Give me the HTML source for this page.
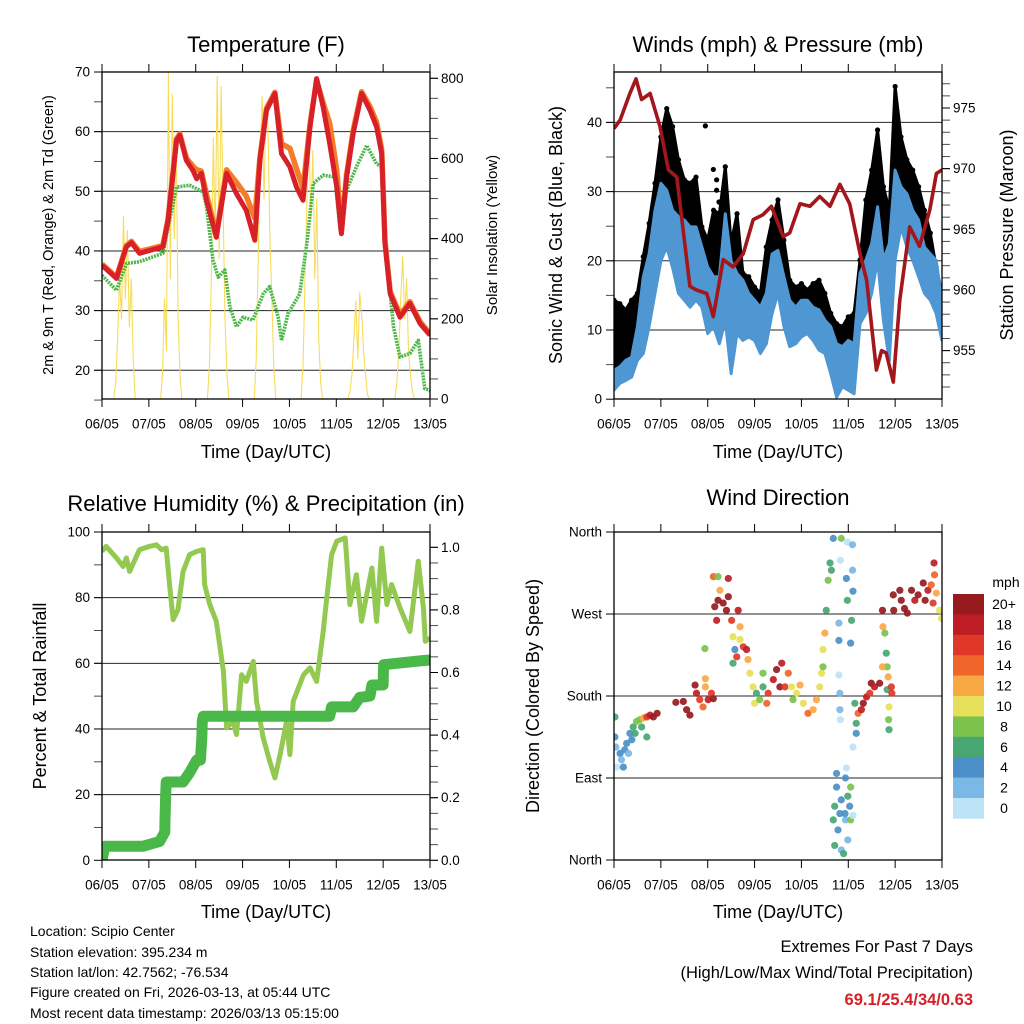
<!DOCTYPE html>
<html><head><meta charset="utf-8"><title>Station meteogram</title>
<style>
html,body{margin:0;padding:0;background:#fff;}
svg{display:block;font-family:"Liberation Sans",Arial,sans-serif;}
</style></head>
<body>
<svg id="fig" width="1024" height="1024" viewBox="0 0 1024 1024" xmlns="http://www.w3.org/2000/svg">
<defs>
<clipPath id="c1"><rect x="102" y="72" width="328" height="327"/></clipPath>
<clipPath id="c2"><rect x="614" y="72" width="328" height="327"/></clipPath>
<clipPath id="c3"><rect x="102" y="532" width="328" height="328"/></clipPath>
<clipPath id="c4"><rect x="614" y="532" width="328" height="328"/></clipPath>
</defs>
<g font-size="22" text-anchor="middle" fill="#000">
<text x="266" y="52">Temperature (F)</text>
<text x="778" y="52">Winds (mph) &amp; Pressure (mb)</text>
<text x="266" y="511">Relative Humidity (%) &amp; Precipitation (in)</text>
<text x="778" y="505">Wind Direction</text>
</g>
<g font-size="18" text-anchor="middle">
<text x="266" y="458">Time (Day/UTC)</text>
<text x="778" y="458">Time (Day/UTC)</text>
<text x="266" y="918">Time (Day/UTC)</text>
<text x="778" y="918">Time (Day/UTC)</text>
<text transform="translate(53,235) rotate(-90)" font-size="14.5">2m &amp; 9m T (Red, Orange) &amp; 2m Td (Green)</text>
<text transform="translate(497,235) rotate(-90)" font-size="15">Solar Insolation (Yellow)</text>
<text transform="translate(562,235) rotate(-90)">Sonic Wind &amp; Gust (Blue, Black)</text>
<text transform="translate(1013,235) rotate(-90)">Station Pressure (Maroon)</text>
<text transform="translate(46,696) rotate(-90)">Percent &amp; Total Rainfall</text>
<text transform="translate(539,696) rotate(-90)">Direction (Colored By Speed)</text>
</g>
<g font-size="14">
<text x="30" y="936">Location: Scipio Center</text>
<text x="30" y="957">Station elevation: 395.234 m</text>
<text x="30" y="977">Station lat/lon: 42.7562; -76.534</text>
<text x="30" y="997">Figure created on Fri, 2026-03-13, at 05:44 UTC</text>
<text x="30" y="1018">Most recent data timestamp: 2026/03/13 05:15:00</text>
</g>
<g font-size="16.5" text-anchor="end">
<text x="973" y="952">Extremes For Past 7 Days</text>
<text x="973" y="978">(High/Low/Max Wind/Total Precipitation)</text>
<text x="973" y="1005" fill="#d42027" font-weight="bold">69.1/25.4/34/0.63</text>
</g>
</svg>
<script>
// ---------- data ----------
const dayLabels = ["06/05","07/05","08/05","09/05","10/05","11/05","12/05","13/05"];
const tempT = [0,0.31,0.52,0.63,0.80,1.30,1.41,1.59,1.66,1.80,1.94,2.02,2.12,2.23,2.44,2.66,2.87,3.08,3.26,3.37,3.51,3.69,3.83,4.01,4.15,4.29,4.44,4.58,4.72,4.86,5.01,5.11,5.22,5.36,5.54,5.72,5.86,5.97,6.04,6.15,6.36,6.57,6.79,7.0];
const temp2m = [37.6,35.4,40.7,41.4,39.6,40.7,45.1,58.5,59.4,55.2,53.5,52.1,53,48.5,42.3,53,49.6,46.8,41.8,55.2,63.6,66.4,56.3,54.1,50.7,48.5,60.8,68.9,64.1,58,50.7,42.9,52.4,59.7,66.4,63.6,60.8,56.3,41.2,32.8,28.9,31.2,27.8,25.9];
const temp9m = [37.8,35.6,40.9,41.6,39.9,40.9,45.4,58.8,59.6,55.6,54.2,53.6,53.4,49.5,42.8,53.6,51.5,49.2,45.5,55.6,63.9,66.6,58.0,57.2,53.8,50.5,61.2,68.6,64.8,61.4,53.5,43.3,52.8,60.2,66.7,64.2,61.6,57.0,41.6,33.2,29.3,31.5,28.1,26.1];
const dewT = [0,0.31,0.52,0.80,1.30,1.44,1.59,1.87,2.16,2.23,2.37,2.48,2.62,2.73,2.87,3.01,3.22,3.44,3.58,3.76,3.83,3.97,4.22,4.37,4.51,4.72,4.97,5.08,5.22,5.43,5.65,5.86,5.97,6.08,6.22,6.36,6.57,6.75,6.89,7.0];
const dew2m = [35.9,33.4,37.9,38.2,39.6,45.1,50.7,51,49.9,47.4,38.4,35.6,36.8,30.6,27.3,28.9,28.4,32.8,34,28.9,25,29.5,32.8,41.2,51.3,52.7,52.4,43.5,50.2,54.1,57.7,54.6,54.1,38.4,27.3,22.2,22.8,25,16.9,16.6];
const solarHours = [6,7,8,9,10,11,12,13,14,15,16,17, 30,31,32,33,34,35,36,37,38,39,40,41, 54,55,56,57,58,59,60,61,62,63,64,65, 78,79,80,81,82,83,84,85,86,87,88,89, 102,103,104,105,106,107,108,109,110,111,112,113, 126,127,128,129,130,131,132,133,134,135,136,137, 150,151,152,153,154,155,156,157,158,159,160,161];
const solarVals = [0,40,150,300,200,455,250,420,180,300,100,0, 0,60,250,120,815,300,760,400,650,200,50,0, 0,80,300,650,400,805,350,780,500,200,60,0, 0,100,350,600,755,500,720,680,400,250,80,0, 0,90,300,500,650,450,620,300,500,150,40,0, 0,20,60,150,245,100,265,210,120,60,10,0, 0,40,120,250,355,200,300,120,60,20,0,0];
const windT = [0,0.125,0.25,0.375,0.5,0.625,0.75,0.875,1,1.125,1.25,1.375,1.5,1.625,1.75,1.875,2,2.125,2.25,2.375,2.5,2.625,2.75,2.875,3,3.125,3.25,3.375,3.5,3.625,3.75,3.875,4,4.125,4.25,4.375,4.5,4.625,4.75,4.875,5,5.125,5.25,5.375,5.5,5.625,5.75,5.875,6,6.125,6.25,6.375,6.5,6.625,6.75,6.875,7];
const windLo = [1.3,2.3,2.7,3.2,5.6,6.6,10.5,15.3,20,22,19,15.3,14.3,13.3,14.3,13.3,9.5,10.5,8,11.4,3.7,9.5,8.5,9,8.5,6.6,8,12.4,15.3,10.5,7.6,8,9,9.5,8.5,7.1,6.6,3.7,0.3,1.8,1.3,0.8,10.9,12.4,15.3,20.1,11.4,5.6,20.1,24.9,22,20.1,17.7,15.3,14.3,12.4,8.5];
const windHi = [4.2,4.7,5.6,6.1,10.5,17.7,21,27.3,31.2,30.2,27.3,26.4,25.9,24.9,24.9,22,19.1,17.7,17.7,26.8,20,18.2,17.2,15.3,14.3,13.3,15.3,21,21.5,17.7,14.3,13.3,14.3,14.3,13.3,12.9,11.4,10.5,8,7.6,8.5,8,18.2,20.1,22.5,27.8,20.1,22.5,33.1,30.7,29.7,27.3,25.9,22,21,20.1,14.3];
const gustHi = [14.3,13.8,12.9,14.3,15.3,20.6,25.4,31.2,37.9,42,39.4,34.6,31.7,31.2,32.1,24.9,23,27.3,26.8,33.6,22.5,26.8,18.2,17.7,16.2,15.3,22,25.9,28.8,23,17.2,16.2,16.7,15.8,16.7,17.2,15.3,12.4,10.9,10.5,11.9,12.4,20.1,28.8,33.1,38.9,30.7,27.3,45.2,37.9,34.6,33.1,30.7,27.3,24,19.1,15.3];
const gustOutT = [1.95,2.12,2.19,2.19,2.24];
const gustOutV = [39.5,33.2,31.7,30.2,28.5];
const presT = [0,0.13,0.34,0.47,0.59,0.77,0.98,1.16,1.34,1.62,1.76,1.98,2.12,2.33,2.54,2.76,2.97,3.18,3.36,3.61,3.75,3.97,4.18,4.39,4.61,4.82,5.03,5.25,5.39,5.60,5.71,5.81,5.96,6.10,6.31,6.52,6.74,6.88,7.0];
const presVals = [973.3,974.0,976.2,977.4,975.7,976.2,973.5,969.9,969.3,960.3,960,959.7,957.8,962.5,961.9,963,965.8,966.2,966.9,964.4,964.7,967.1,966.9,967.7,966.9,968.7,967.1,963,960.8,953.4,955,954.8,952.4,959.2,965.2,963.6,966.6,969.6,969.9];
const rhT = [0,0.09,0.31,0.45,0.52,0.59,0.80,1.01,1.16,1.27,1.37,1.45,1.52,1.62,1.73,1.87,2.02,2.16,2.19,2.30,2.44,2.59,2.66,2.80,2.87,2.98,3.08,3.23,3.30,3.44,3.58,3.69,3.80,3.94,4.01,4.08,4.30,4.44,4.58,4.72,4.79,4.90,5.01,5.19,5.29,5.43,5.54,5.65,5.76,5.86,5.97,6.08,6.18,6.36,6.57,6.75,6.86,6.90,7.0];
const rhVals = [94.1,95.6,92.1,89.5,92.1,88,94.6,95.6,96.1,94.6,95.1,82.9,73.3,76.3,88,93.1,94.1,94.6,84,77.9,72.8,57.6,40.3,42.3,38.3,56.5,54.5,60.6,48.4,37.3,30.2,25.1,32.2,42.3,32.2,48.4,56.5,58.6,54.5,69.7,78.9,93.1,97.2,98.2,77.9,87,72.8,80.9,89,72.8,95.1,77.9,84,76.9,69.7,91.1,76.9,66.7,67.7];
const prT = [0,0.06,0.88,1.23,1.34,1.345,1.36,1.37,1.73,1.87,2.02,2.10,2.13,2.14,2.16,4.86,4.9,5.36,5.5,5.72,5.76,6.0,6.01,6.79,7.0];
const prVals = [0,0.045,0.045,0.06,0.09,0.13,0.21,0.25,0.25,0.28,0.32,0.32,0.39,0.445,0.46,0.46,0.49,0.49,0.52,0.525,0.56,0.56,0.625,0.637,0.64];
const dirT = [0.02,0.02,0.04,0.06,0.13,0.16,0.2,0.23,0.27,0.31,0.34,0.38,0.41,0.45,0.48,0.55,0.59,0.63,0.7,0.7,0.77,0.84,0.92,1.32,1.48,1.55,1.62,1.73,1.76,1.83,1.9,1.95,1.95,1.94,2.01,2.08,2.12,2.12,2.15,2.19,2.22,2.22,2.26,2.33,2.4,2.44,2.44,2.51,2.54,2.58,2.54,2.62,2.65,2.69,2.69,2.76,2.83,2.86,2.9,2.97,3.0,3.04,3.11,3.18,3.18,3.26,3.29,3.4,3.47,3.54,3.58,3.65,3.72,3.79,3.82,3.9,3.97,4.04,4.14,4.25,4.32,4.39,4.43,4.46,4.46,4.5,4.53,4.57,4.61,4.64,4.68,4.85,4.83,4.8,4.8,4.8,4.82,4.82,4.83,4.98,5.09,5.09,4.96,5.1,4.98,5.07,5.05,4.75,4.75,4.71,4.68,4.78,4.71,4.85,4.9,4.94,4.96,4.99,4.94,5.05,5.03,5.05,4.99,5.1,4.93,4.82,4.85,5.14,5.17,5.17,5.1,5.21,5.28,5.32,5.39,5.46,5.49,5.56,5.67,5.73,5.74,5.78,5.81,5.83,5.85,5.83,5.87,5.86,5.87,5.92,5.93,5.73,5.97,5.96,6.1,6.13,6.2,6.26,6.35,6.42,6.49,6.6,6.64,6.7,6.77,6.81,6.83,6.84,6.88,6.95,6.99];
const dirDeg = [157,135,124,102,117,110,102,121,128,117,139,132,146,139,152,154,146,156,135,157,159,157,161,173,174,165,159,192,183,176,168,190,199,232,176,183,177,311,278,263,311,285,296,282,274,309,289,263,245,231,216,223,274,256,242,234,231,220,205,190,172,183,176,205,190,172,183,198,209,190,216,190,205,190,176,183,192,172,161,165,176,190,205,231,212,249,274,307,326,318,353,353,329,260,241,203,183,165,154,349,346,318,309,295,285,263,238,95,80,59,44,33,16,11,7,90,101,70,44,80,59,44,22,49,51,51,66,172,150,139,124,161,165,172,179,183,194,190,194,274,256,249,227,212,201,187,168,154,143,190,183,212,274,291,296,285,276,271,296,285,291,304,285,296,302,282,326,313,293,274,265];
const dirSpd = [6,4,3,1,4,3,4,4,4,2,4,5,6,7,8,9,7,12,6,16,19,20,20,20,20,20,20,20,18,16,14,12,12,8,19,16,20,14,20,18,8,20,12,20,20,18,20,16,10,4,6,16,18,12,10,16,18,12,10,10,10,7,8,8,7,14,16,18,20,20,18,16,14,10,8,10,12,10,14,12,12,10,11,10,8,12,7,8,7,6,4,8,1,2,4,1,2,2,1,0,2,2,4,4,6,6,5,4,4,6,7,4,6,3,6,4,1,6,3,8,5,8,3,1,4,4,5,7,6,4,1,15,18,20,18,16,20,18,20,20,12,8,6,8,12,6,10,8,6,16,17,12,20,20,20,20,20,20,20,18,20,20,20,18,14,16,18,14,12,10,10];
const speedLabels = ["0","2","4","6","8","10","12","14","16","18","20+"];
const speedColors = ["#bde3f7","#7ab8e5","#4a8fc7","#48a673","#7bc34b","#e6df59","#f8a843","#f06529","#df3829","#bd1e26","#971a1e"];

// ---------- helpers ----------
const NS = "http://www.w3.org/2000/svg";
const svg = document.getElementById("fig");
function mk(tag, attrs, parent){
  const e = document.createElementNS(NS, tag);
  for (const k in attrs) e.setAttribute(k, attrs[k]);
  (parent || svg).appendChild(e);
  return e;
}
function txt(parent, x, y, s, anchor, size){
  const t = mk("text", {x:x, y:y, "text-anchor":anchor, "font-size":size||13.5, "dominant-baseline":"central"}, parent);
  t.textContent = s;
  return t;
}
function panel(x0,x1,y0,y1){ return {x0,x1,y0,y1, x:(t)=>x0+t/7*(x1-x0)}; }
const P1 = panel(102,430,72,399), P2 = panel(614,942,72,399), P3 = panel(102,430,532,860), P4 = panel(614,942,532,860);
const yT = v => 72 + (70 - v) * 5.965;
const yS = v => 399 - v * 0.4009;
const yW = v => 399.2 - v * 6.92;
const yP = v => 229.3 - (v - 965) * 12.13;
const yR = v => 860.3 - v * 3.283;
const yPr = v => 860.3 - v * 313;
const yD = v => 860 - v * 328 / 360;

function pathFrom(xs, ys, P, yf){
  let d = "";
  for (let i = 0; i < xs.length; i++) d += (i ? "L" : "M") + P.x(xs[i]).toFixed(1) + "," + yf(ys[i]).toFixed(1);
  return d;
}

function frame(P, name, gridVals, yf, leftMaj, leftMin, leftLab, rightMaj, rightMin, rightLab, yf2){
  const g = mk("g", {});
  
  
  gridVals.forEach(v => {
    const l = mk("line", {x1:P.x0, x2:P.x1, y1:yf(v), y2:yf(v), stroke:"#000", "stroke-width":1, "stroke-opacity":0.85}, g);
    
    
  });
  for (let d = 0; d <= 7; d++) {
    const x = P.x(d);
    mk("line", {x1:x, x2:x, y1:P.y0-8, y2:P.y0, stroke:"#000"}, g);
    mk("line", {x1:x, x2:x, y1:P.y1, y2:P.y1+8, stroke:"#000"}, g);
    const lb = txt(g, x, P.y1 + 25, dayLabels[d], "middle", 13.5);
    
    
  }
  leftMin.forEach(v => mk("line", {x1:P.x0-8, x2:P.x0, y1:yf(v), y2:yf(v), stroke:"#000", "stroke-opacity":0.7}, g));
  leftMaj.forEach((v,i) => {
    mk("line", {x1:P.x0-8, x2:P.x0, y1:yf(v), y2:yf(v), stroke:"#000"}, g);
    const lb = txt(g, P.x0-12, yf(v), leftLab[i], "end", 13.5);
    
    
  });
  if (rightMaj) {
    rightMin.forEach(v => mk("line", {x1:P.x1, x2:P.x1+8, y1:yf2(v), y2:yf2(v), stroke:"#000", "stroke-opacity":0.7}, g));
    rightMaj.forEach((v,i) => {
      mk("line", {x1:P.x1, x2:P.x1+8, y1:yf2(v), y2:yf2(v), stroke:"#000"}, g);
      const lb = txt(g, P.x1+11, yf2(v), rightLab[i], "start", 13.5);
      
      
    });
  }
  return g;
}
function border(P, name){
  const r = mk("rect", {x:P.x0, y:P.y0, width:P.x1-P.x0, height:P.y1-P.y0, fill:"none", stroke:"#000", "stroke-width":1.3});
  
  
}
function range(a,b,s){ const r=[]; for(let v=a; v<=b+1e-9; v+=s) r.push(+v.toFixed(3)); return r; }

frame(P1, "temperature", [20,30,40,50,60], yT, [20,30,40,50,60,70], range(15,65,5), ["20","30","40","50","60","70"], [0,200,400,600,800], range(0,800,50), ["0","200","400","600","800"], yS);
frame(P2, "winds", [10,20,30,40], yW, [0,10,20,30,40], range(5,45,5), ["0","10","20","30","40"], [955,960,965,970,975], range(952,977,1), ["955","960","965","970","975"], yP);
frame(P3, "humidity", [20,40,60,80], yR, [0,20,40,60,80,100], range(10,90,10), ["0","20","40","60","80","100"], [0,0.2,0.4,0.6,0.8,1.0], range(0,1,0.05), ["0.0","0.2","0.4","0.6","0.8","1.0"], yPr);
frame(P4, "direction", [90,180,270], yD, [0,90,180,270,360], [], ["North","East","South","West","North"], null);

// ---------- temperature panel ----------
const g1 = mk("g", {"clip-path":"url(#c1)"});
const solar = mk("path", {d:pathFrom(solarHours.map(h=>h/24), solarVals, P1, yS), fill:"none", stroke:"#f7dc5a", "stroke-width":1.1, "stroke-linejoin":"round"}, g1);


const dewL = mk("path", {d:pathFrom(dewT, dew2m, P1, yT), fill:"none", stroke:"#4cb748", "stroke-width":3.6, "stroke-dasharray":"2 1", "stroke-linejoin":"round"}, g1);


const t9 = mk("path", {d:pathFrom(tempT, temp9m, P1, yT), fill:"none", stroke:"#f47d2a", "stroke-width":5.5, "stroke-linejoin":"round"}, g1);


const t2 = mk("path", {d:pathFrom(tempT, temp2m, P1, yT), fill:"none", stroke:"#d72027", "stroke-width":5, "stroke-linejoin":"round"}, g1);


border(P1, "temperature");

// ---------- winds panel ----------
const g2 = mk("g", {"clip-path":"url(#c2)"});
let gd = "";
for (let i = 0; i < windT.length; i++) gd += (i ? "L" : "M") + P2.x(windT[i]).toFixed(1) + "," + yW(gustHi[i]).toFixed(1);
for (let i = windT.length - 1; i >= 0; i--) gd += "L" + P2.x(windT[i]).toFixed(1) + "," + yW(Math.max(0, windHi[i] - 2)).toFixed(1);
const gustBand = mk("path", {d:gd + "Z", fill:"#000", stroke:"#000", "stroke-width":3, "stroke-linejoin":"round"}, g2);


for (let i = 0; i < windT.length; i++) {
  const c = mk("circle", {cx:P2.x(windT[i]), cy:yW(gustHi[i]), r:2.6, fill:"#000"}, g2);
  
  
}
for (let i = 0; i < gustOutT.length; i++) {
  const c = mk("circle", {cx:P2.x(gustOutT[i]), cy:yW(gustOutV[i]), r:2.6, fill:"#000"}, g2);
  
  
}
let bd = "";
for (let i = 0; i < windT.length; i++) bd += (i ? "L" : "M") + P2.x(windT[i]).toFixed(1) + "," + yW(windHi[i]).toFixed(1);
for (let i = windT.length - 1; i >= 0; i--) bd += "L" + P2.x(windT[i]).toFixed(1) + "," + yW(windLo[i]).toFixed(1);
const windBand = mk("path", {d:bd + "Z", fill:"#4f97d2", stroke:"#4f97d2", "stroke-width":3, "stroke-linejoin":"round"}, g2);


const pres = mk("path", {d:pathFrom(presT, presVals, P2, yP), fill:"none", stroke:"#a3161b", "stroke-width":3.6, "stroke-linejoin":"round"}, g2);


border(P2, "winds");

// ---------- humidity panel ----------
const g3 = mk("g", {"clip-path":"url(#c3)"});
const rh = mk("path", {d:pathFrom(rhT, rhVals, P3, yR), fill:"none", stroke:"#93c951", "stroke-width":5, "stroke-linejoin":"round"}, g3);


const pr = mk("path", {d:pathFrom(prT, prVals, P3, yPr), fill:"none", stroke:"#4ab749", "stroke-width":11, "stroke-linejoin":"round", "stroke-linecap":"round"}, g3);


border(P3, "humidity");

// ---------- direction panel ----------
const g4 = mk("g", {"clip-path":"url(#c4)"});
for (let i = 0; i < dirT.length; i++) {
  const k = Math.min(10, Math.floor(dirSpd[i] / 2));
  const c = mk("circle", {cx:P4.x(dirT[i]), cy:yD(dirDeg[i]), r:3.6, fill:speedColors[k], "fill-opacity":0.92}, g4);
  
  
}
border(P4, "direction");

// ---------- colorbar ----------
const cb = mk("g", {});


const cbTop = 594, cbH = 20.4;
for (let i = 0; i < speedLabels.length; i++) {
  const j = speedLabels.length - 1 - i;
  const r = mk("rect", {x:953, y:cbTop + i*cbH, width:31, height:cbH + 0.3, fill:speedColors[j]}, cb);
  
  
  const t = txt(cb, 1004, cbTop + i*cbH + 10, speedLabels[j], "middle", 14);
  
  
}
const mph = txt(cb, 1006, 582, "mph", "middle", 14);


</script>
</body></html>
